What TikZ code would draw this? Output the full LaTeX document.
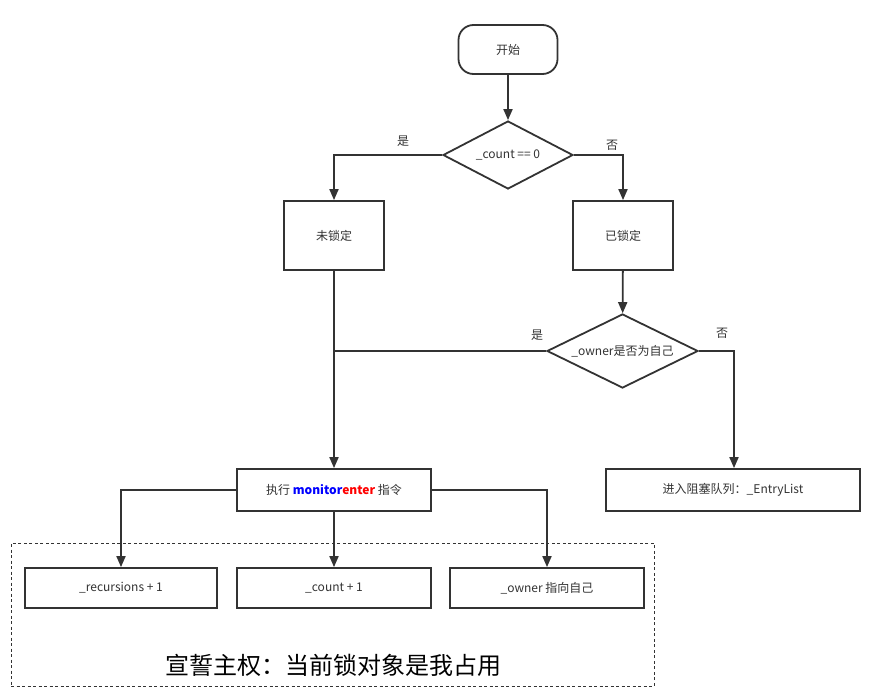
\documentclass[tikz,border=0pt]{standalone}
\usepackage{fontspec}
\setmainfont{Noto Sans CJK SC}
\usetikzlibrary{shapes.geometric,arrows.meta}
\definecolor{ln}{HTML}{333333}
\definecolor{tx}{HTML}{333333}
\definecolor{kwblue}{HTML}{0000FF}
\definecolor{kwred}{HTML}{FF0000}
\begin{document}
\begin{tikzpicture}[x=1pt,y=-1pt,
  every node/.style={font=\fontsize{12}{14}\selectfont, text=tx},
  stepbox/.style={draw=ln, line width=1.8pt, fill=white, inner sep=0pt},
  decision/.style={diamond, draw=ln, line width=1.8pt, fill=white, inner sep=0pt},
  flow/.style={draw=ln, line width=1.8pt, -{Triangle[width=9pt,length=11pt]}},
  plain/.style={draw=ln, line width=1.8pt},
  lbl/.style={font=\fontsize{12}{14}\selectfont}
]
\useasboundingbox (0,0) rectangle (885,688);

% group box
\node[draw=ln, dashed, line width=0.9pt, dash pattern=on 3pt off 2.5pt,
      minimum width=643pt, minimum height=143pt, inner sep=0pt] (grp) at (332.5,614.5) {};
\node[font=\fontsize{24}{28}\selectfont, text=black] (claim) at (333,665) {宣誓主权：当前锁对象是我占用};

% nodes
\node[stepbox, rounded corners=15pt, minimum width=99pt, minimum height=49pt] (start) at (508,49.5) {开始};
\node[decision, aspect=1.91, minimum width=130pt, minimum height=68pt] (d1) at (508,155) {\_count == 0};
\node[stepbox, minimum width=100pt, minimum height=69pt] (unlock) at (334,235.5) {未锁定};
\node[stepbox, minimum width=100pt, minimum height=69pt] (locked) at (623,235.5) {已锁定};
\node[decision, aspect=2.04, minimum width=151pt, minimum height=74pt] (d2) at (622.5,351) {\_owner是否为自己};
\node[stepbox, minimum width=194pt, minimum height=42pt] (mon) at (334,490)
  {执行 \textbf{\textcolor{kwblue}{monitor}\textcolor{kwred}{enter}} 指令};
\node[stepbox, minimum width=254pt, minimum height=42pt] (entry) at (733,490) {进入阻塞队列：\_EntryList};
\node[stepbox, minimum width=192pt, minimum height=40pt] (rec) at (121,588) {\_recursions + 1};
\node[stepbox, minimum width=194pt, minimum height=40pt] (cnt) at (334,588) {\_count + 1};
\node[stepbox, minimum width=194pt, minimum height=40pt] (own) at (547,588) {\_owner 指向自己};

\coordinate (j) at (334,351);
\coordinate (k) at (734,351);

% connectors
\draw[flow] (start) -- (d1);
\draw[flow] (d1.west) -| (unlock.north);
\draw[flow] (d1.east) -| (locked.north);
\draw[flow] (locked) -- (d2);
\draw[flow] (unlock) -- (mon);
\draw[plain] (d2.west) -- (j);
\draw[flow] (d2.east) -- (k) -- (k |- entry.north);
\draw[flow] (mon.west) -| (rec.north);
\draw[flow] (mon) -- (cnt);
\draw[flow] (mon.east) -| (own.north);

% labels
\node[lbl] (y1) at (403,141) {是};
\node[lbl] (n1) at (612,145) {否};
\node[lbl] (y2) at (537,335) {是};
\node[lbl] (n2) at (722,333) {否};
\end{tikzpicture}
\end{document}
